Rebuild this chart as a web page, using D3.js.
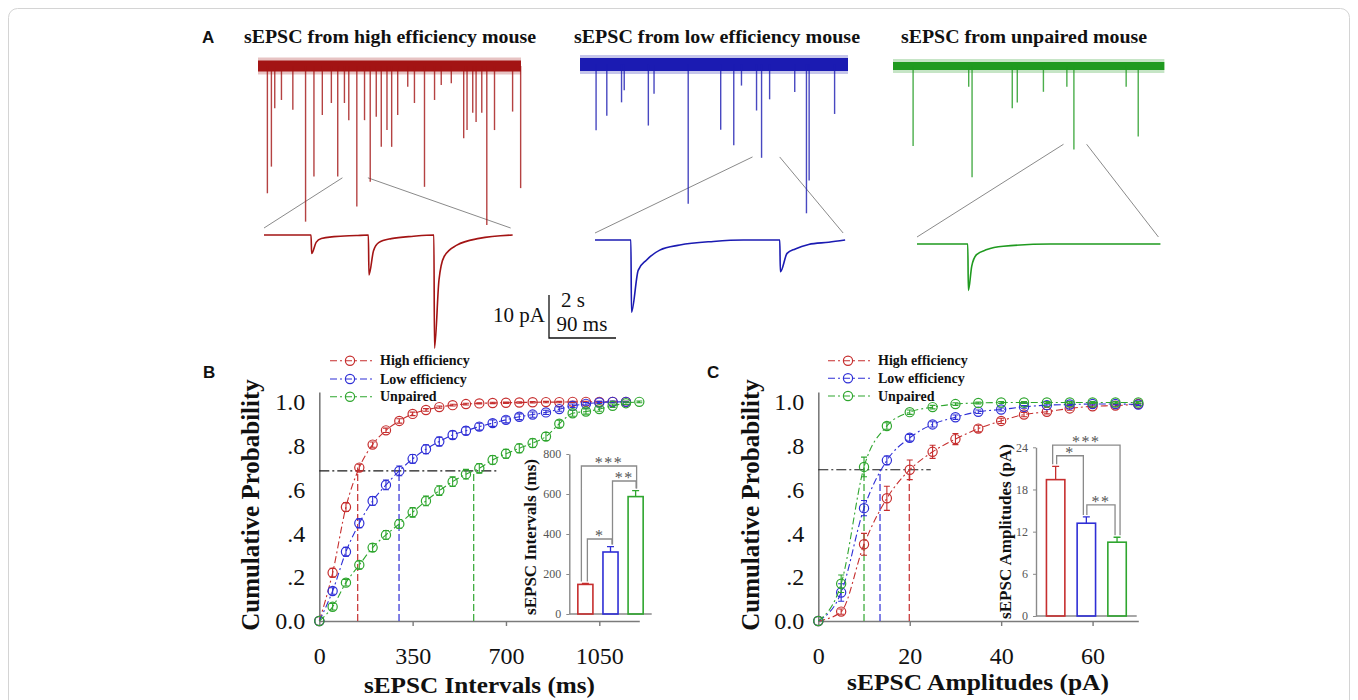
<!DOCTYPE html>
<html>
<head>
<meta charset="utf-8">
<script src="https://cdn.jsdelivr.net/npm/d3@7"></script>
<style>
  body { margin: 0; background: #fff; }
  svg { display: block; }
</style>
</head>
<body>
<div id="container"></div>
<script>
// ---------- panel A: raw sEPSC sweeps ----------
// events picked off each sweep, [time (s), amplitude (pA)]
let highSweepEvents = [[0.28, 29.6], [0.40, 23.4], [0.50, 9.8], [0.70, 7.9], [1.04, 10.2], [1.42, 36.2],
  [1.67, 25.7], [1.92, 11.4], [2.19, 8.6], [2.38, 25.7], [2.58, 8.6], [2.71, 12.6], [2.95, 32.7],
  [3.18, 12.6], [3.35, 26.9], [3.53, 11.8], [3.68, 18.8], [3.85, 14.9], [3.99, 18.8], [4.17, 11.4],
  [4.47, 4.8], [4.67, 8.6], [4.97, 28.1], [5.27, 7.9], [5.47, 4.4], [5.77, 4.0], [6.14, 16.8],
  [6.24, 14.9], [6.41, 10.9], [6.51, 13.0], [6.68, 10.9], [6.83, 37.0], [7.06, 14.9], [7.60, 10.6],
  [7.84, 28.4]];
let lowSweepEvents = [[0.48, 15.3], [0.80, 11.9], [1.24, 8.8], [1.32, 6.0], [2.04, 14.2], [2.21, 6.8],
  [3.23, 32.4], [4.20, 15.2], [4.59, 18.8], [4.82, 4.9], [5.27, 10.7], [5.42, 21.7], [5.66, 8.1],
  [6.41, 6.4], [6.76, 34.6], [6.84, 27.0], [7.60, 11.5]];
let unpairedSweepEvents = [[0.60, 18.6], [2.26, 4.8], [2.36, 25.9], [3.56, 9.8], [3.71, 8.5], [4.49, 6.0],
  [5.19, 4.8], [5.40, 19.4], [6.96, 4.8], [7.32, 16.4]];
let sweepLengths = [7.85, 8.0, 8.1]; // s

// expanded stretch of each sweep, [time (ms), amplitude (pA)]
let highZoomEvents = [[64, 4.3], [141, 9.3], [229, 26.3]];
let lowZoomEvents = [[49, 16.8], [249, 7.4]];
let unpairedZoomEvents = [[69, 10.8]];
let zoomLengths = [334, 336, 327]; // ms
// decay read off the biggest event, [ms after peak, fraction of peak]
let highDecay = [[0, 1], [6, 0.4], [13, 0.19], [30, 0.09], [60, 0.03], [110, 0]];
let lowDecay = [[0, 1], [9, 0.42], [20, 0.28], [38, 0.14], [65, 0.07], [110, 0.02], [150, 0]];
let unpairedDecay = [[0, 1], [4.5, 0.48], [11, 0.23], [25, 0.12], [47, 0.05], [110, 0]];

let groups = ["High efficiency", "Low efficiency", "Unpaired"];
let sweepTitles = ["sEPSC from high efficiency mouse", "sEPSC from low efficiency mouse", "sEPSC from unpaired mouse"];

// ---------- panel B: intervals ----------
let intervalBins = [0, 50, 100, 150, 200, 250, 300, 350, 400, 450, 500, 550, 600, 650, 700, 750, 800,
  850, 900, 950, 1000, 1050, 1100, 1150, 1200];
let intervalHigh = [0, .22, .52, .70, .805, .87, .913, .945, .963, .976, .985, .99, .993, .995, .996,
  .997, .998, .999, .999, 1, 1, 1, 1, 1];
let intervalHighErr = [0, .02, .02, .015, .012, .01, .01, .008, .006, .005, .004, .004, .003, .003, .003,
  .003, .003, .003, .003, .003, .003, .003, .003, .003];
let intervalLow = [0, .137, .316, .446, .548, .621, .685, .740, .784, .819, .849, .868, .887, .903, .918,
  .932, .942, .952, .967, .982, .991, .997, 1, 1];
let intervalLowErr = [0, .015, .02, .02, .02, .022, .022, .02, .02, .02, .018, .018, .016, .015, .014,
  .013, .012, .01, .01, .008, .006, .005, .004, .003];
let intervalUnpaired = [0, .065, .175, .256, .335, .393, .443, .496, .548, .595, .636, .67, .697, .735,
  .763, .788, .812, .842, .90, .948, .956, .967, .982, .994, 1];
let intervalUnpairedErr = [0, .015, .015, .018, .018, .02, .02, .022, .022, .022, .022, .022, .022, .02,
  .02, .02, .02, .018, .016, .014, .012, .01, .008, .006, .004];
let intervalTicks = [0, 350, 700, 1050];
let intervalCut = 0.685, intervalCutEnd = 670;
let intervalMarks = [144, 299, 579], intervalMarkTops = [0.70, 0.685, 0.685];
let intervalMeans = [148, 310, 587], intervalSem = [5, 27, 30];
let intervalBarTicks = [0, 200, 400, 600, 800];
let intervalSig = [{pair: [0, 1], at: 375, mark: "*"}, {pair: [1, 2], at: 665, mark: "**"},
  {pair: [0, 2], at: 740, mark: "***"}];

// ---------- panel C: amplitudes ----------
let amplitudeBins = [0, 5, 10, 15, 20, 25, 30, 35, 40, 45, 50, 55, 60, 65, 70];
let amplitudeHigh = [0, .043, .35, .56, .69, .772, .83, .878, .913, .942, .955, .97, .98, .983, .99];
let amplitudeHighErr = [0, .012, .05, .055, .045, .03, .025, .015, .012, .01, .01, .008, .006, .005, .004];
let amplitudeLow = [0, .13, .515, .733, .836, .897, .93, .955, .965, .977, .985, .988, .99, .99, .988];
let amplitudeLowErr = [0, .04, .035, .02, .015, .012, .01, .008, .007, .006, .005, .004, .004, .004, .004];
let amplitudeUnpaired = [0, .17, .703, .89, .953, .976, .99, .995, .997, .997, .997, .997, .997, .997, .997];
let amplitudeUnpairedErr = [0, .04, .045, .015, .01, .008, .006, .004, .004, .004, .004, .004, .004, .004, .004];
let amplitudeTicks = [0, 20, 40, 60];
let amplitudeCut = 0.69, amplitudeCutEnd = 24.6;
let amplitudeMarks = [19.9, 13.5, 10.0], amplitudeMarkTops = [0.69, 0.69, 0.70];
let amplitudeMeans = [19.4, 13.2, 10.5], amplitudeSem = [1.9, 0.9, 0.7];
let amplitudeBarTicks = [0, 6, 12, 18, 24];
let amplitudeSig = [{pair: [0, 1], at: 22.8, mark: "*"}, {pair: [1, 2], at: 15.8, mark: "**"},
  {pair: [0, 2], at: 24.3, mark: "***"}];

let probTicks = [0, 0.2, 0.4, 0.6, 0.8, 1.0];
let probTickLabels = ["0.0", ".2", ".4", ".6", ".8", "1.0"];


let w = 1358;
let h = 700;
let serif = "'Liberation Serif', 'Times New Roman', serif";
let sans = "'Liberation Sans', Arial, sans-serif";
let traceColors = ["#a31414", "#1b1bb2", "#1f9a1f"];
let plotColors = ["#c62e2e", "#2f2fd6", "#2fa62f"];
let axisGray = "#7b7b7b";

let viz = d3.select("#container")
  .append("svg")
    .attr("width", w)
    .attr("height", h)
;

// thin frame round the figure
viz.append("rect")
  .attr("x", 8.5).attr("y", 8.5).attr("width", w - 17).attr("height", h + 20).attr("rx", 9)
  .attr("fill", "none").attr("stroke", "#d4d4d4");

function addText(parent, str, x, y, size, o) {
  o = o || {};
  let t = parent.append("text")
    .attr("x", x).attr("y", y)
    .attr("font-family", o.family || serif)
    .attr("font-size", size)
    .attr("font-weight", o.bold ? "bold" : "normal")
    .attr("text-anchor", o.anchor || "start")
    .attr("fill", o.fill || "#111")
    .text(str);
  if (o.length) t.attr("textLength", o.length).attr("lengthAdjust", "spacingAndGlyphs");
  if (o.rotate) t.attr("transform", "rotate(-90," + x + "," + y + ")").attr("dominant-baseline", "central");
  return t;
}

// panel letters
addText(viz, "A", 202, 43, 17, {bold: true, family: sans});
addText(viz, "B", 203, 378, 17, {bold: true, family: sans});
addText(viz, "C", 707, 378, 17, {bold: true, family: sans});


// ================= panel A =================
let sweepT = d3.scaleLinear().domain([0, 2]).range([0, 67]);  // same as the 2 s bar
let pA = d3.scaleLinear().domain([0, 10]).range([0, 43]);     // same as the 10 pA bar
let zoomT = d3.scaleLinear().domain([0, 90]).range([0, 67]);  // same as the 90 ms bar

let sweeps = [
  {events: highSweepEvents, len: sweepLengths[0], x0: 258, y0: 66, band: 11, win: [2.52, 3.28], depth: 26, title: [390, 292]},
  {events: lowSweepEvents, len: sweepLengths[1], x0: 580, y0: 64.5, band: 13, win: [5.15, 5.96], depth: 21.5, title: [717, 286]},
  {events: unpairedSweepEvents, len: sweepLengths[2], x0: 893, y0: 66, band: 8, win: [5.09, 5.78], depth: 18.2, title: [1024, 246]}
];
let zooms = [
  {events: highZoomEvents, decay: highDecay, len: zoomLengths[0], x0: 264, y0: 235},
  {events: lowZoomEvents, decay: lowDecay, len: zoomLengths[1], x0: 595, y0: 240},
  {events: unpairedZoomEvents, decay: unpairedDecay, len: zoomLengths[2], x0: 917, y0: 244}
];

// builds the expanded trace from the events and the decay shape
function zoomTrace(z) {
  let pts = [[0, 0]];
  z.events.forEach(function(e, k){
    let next = k < z.events.length - 1 ? z.events[k + 1][0] - 1.5 : z.len;
    pts.push([e[0] - 0.8, 0]);
    z.decay.forEach(function(d){
      if (e[0] + d[0] < next) pts.push([e[0] + d[0], e[1] * d[1]]);
    });
  });
  pts.push([z.len, 0]);
  return pts;
}

sweeps.forEach(function(s, i){
  let z = zooms[i];
  let g = viz.append("g").attr("class", "sweep");
  let sx = d => s.x0 + sweepT(d);

  addText(g, sweepTitles[i], s.title[0], 43, 18, {bold: true, anchor: "middle", length: s.title[1]});

  // grey lines from the sweep to its expanded stretch
  let ends = [[s.win[0], z.x0], [s.win[1], z.x0 + zoomT(z.len) - 2]];
  g.selectAll(".link").data(ends).enter().append("line")
    .attr("class", "link")
    .attr("x1", d => sx(d[0])).attr("y1", s.y0 + pA(s.depth))
    .attr("x2", d => d[1]).attr("y2", z.y0 - 7)
    .attr("stroke", "#8a8a8a").attr("stroke-width", 1);

  // noisy baseline drawn as a band
  g.append("line")
    .attr("x1", s.x0).attr("x2", sx(s.len)).attr("y1", s.y0).attr("y2", s.y0)
    .attr("stroke", traceColors[i]).attr("stroke-width", s.band + 6).attr("opacity", 0.25);
  g.append("line")
    .attr("x1", s.x0).attr("x2", sx(s.len)).attr("y1", s.y0).attr("y2", s.y0)
    .attr("stroke", traceColors[i]).attr("stroke-width", s.band);

  g.selectAll(".spike").data(s.events).enter().append("line")
    .attr("class", "spike")
    .attr("x1", d => sx(d[0])).attr("x2", d => sx(d[0]))
    .attr("y1", s.y0).attr("y2", d => s.y0 + pA(d[1]))
    .attr("stroke", traceColors[i]).attr("stroke-width", 1.4).attr("opacity", 0.8);

  let zl = d3.line()
    .x(d => z.x0 + zoomT(d[0]))
    .y(d => z.y0 + pA(d[1]))
    .curve(d3.curveMonotoneX);
  g.append("path").datum(zoomTrace(z))
    .attr("d", zl)
    .attr("fill", "none").attr("stroke", traceColors[i]).attr("stroke-width", 1.6);
});

// scale bar
let sb = {x: 549, y: 338};
viz.append("path")
  .attr("d", "M" + sb.x + "," + (sb.y - pA(10)) + "V" + sb.y + "H" + (sb.x + sweepT(2)))
  .attr("fill", "none").attr("stroke", "#111").attr("stroke-width", 1.3);
addText(viz, "10 pA", sb.x - 4, 322, 21, {anchor: "end"});
addText(viz, "2 s", 573, 307, 21, {anchor: "middle"});
addText(viz, "90 ms", 582, 331, 21, {anchor: "middle"});


// ================= panels B and C =================
function cumulativePanel(c) {
  let g = viz.append("g");
  let x = d3.scaleLinear().domain(c.xDomain).range(c.xRange);
  let y = d3.scaleLinear().domain([0, 1.045]).range([621, 392]);

  let xg = g.append("g").attr("transform", "translate(0,621)")
    .call(d3.axisBottom(x).tickValues(c.xTicks).tickFormat(d3.format("d")).tickSize(5).tickSizeOuter(0).tickPadding(21));
  let yg = g.append("g").attr("transform", "translate(" + c.xRange[0] + ",0)")
    .call(d3.axisLeft(y).tickValues(probTicks).tickFormat((d, i) => probTickLabels[i]).tickSize(0).tickSizeOuter(0).tickPadding(14));
  [xg, yg].forEach(function(a){
    a.attr("font-family", serif).attr("font-size", 24).attr("color", axisGray);
    a.select(".domain").attr("stroke-width", 1.6);
    a.selectAll(".tick line").attr("stroke-width", 1.4);
    a.selectAll(".tick text").attr("fill", "#111");
  });

  // cut-off level and where each curve crosses it
  g.append("line")
    .attr("x1", x(0)).attr("x2", x(c.cutEnd)).attr("y1", y(c.cut)).attr("y2", y(c.cut))
    .attr("stroke", "#1a1a1a").attr("stroke-width", 1.1).attr("stroke-dasharray", "10,3,2,3");
  g.selectAll(".mark").data(c.marks).enter().append("line")
    .attr("class", "mark")
    .attr("x1", d => x(d)).attr("x2", d => x(d))
    .attr("y1", y(0)).attr("y2", (d, i) => y(c.markTops[i]))
    .attr("stroke", (d, i) => plotColors[i]).attr("stroke-width", 1.2).attr("stroke-dasharray", "7,3");

  let lineMaker = d3.line().x(d => x(d[0])).y(d => y(d[1])).curve(d3.curveMonotoneX);
  c.series.forEach(function(s, i){
    let pts = s.vals.map((v, k) => [c.bins[k], v, s.errs[k]]);
    g.append("path").datum(pts)
      .attr("d", lineMaker)
      .attr("fill", "none").attr("stroke", plotColors[i]).attr("stroke-width", 1.1)
      .attr("stroke-dasharray", "7,3,2,3");
    let eb = g.append("g").attr("stroke", plotColors[i]).attr("stroke-width", 1.1).attr("fill", "none");
    eb.selectAll(".bar").data(pts.filter(p => p[2] > 0)).enter().append("path")
      .attr("class", "bar")
      .attr("d", p => "M" + x(p[0]) + "," + y(p[1] - p[2]) + "V" + y(p[1] + p[2]) +
        "M" + (x(p[0]) - 3) + "," + y(p[1] - p[2]) + "h6" +
        "M" + (x(p[0]) - 3) + "," + y(p[1] + p[2]) + "h6");
    eb.selectAll("circle").data(pts).enter().append("circle")
      .attr("cx", p => x(p[0])).attr("cy", p => y(p[1])).attr("r", 4.6)
      .attr("stroke-width", 1.2);
  });

  // legend
  groups.forEach(function(name, i){
    let ly = c.legendRows[i];
    g.append("line").attr("x1", c.legendX).attr("x2", c.legendX + 42).attr("y1", ly).attr("y2", ly)
      .attr("stroke", plotColors[i]).attr("stroke-width", 1.1).attr("stroke-dasharray", "7,3,2,3");
    g.append("circle").attr("cx", c.legendX + 20).attr("cy", ly).attr("r", 4.6)
      .attr("fill", "none").attr("stroke", plotColors[i]).attr("stroke-width", 1.2);
    addText(g, name, c.legendX + 50, ly + 4.5, 14, {bold: true});
  });

  addText(g, "Cumulative Probability", c.yLabelX, 505, 25, {bold: true, anchor: "middle", rotate: true});
  addText(g, c.xLabel, c.xLabelAt[0], c.xLabelAt[1], 24, {bold: true, anchor: "middle", length: c.xLabelAt[2]});
}

function barInset(c) {
  let g = viz.append("g");
  let x = d3.scaleBand().domain(groups).range(c.xRange).paddingInner(0.4).paddingOuter(0.34);
  let y = d3.scaleLinear().domain([0, c.yMax]).range([c.base, c.top]);

  let yg = g.append("g").attr("transform", "translate(" + c.xRange[0] + ",0)")
    .call(d3.axisLeft(y).tickValues(c.ticks).tickSize(3).tickSizeOuter(0).tickPadding(5));
  yg.attr("font-family", serif).attr("font-size", 12).attr("color", "#8a8a8a");
  yg.select(".domain").attr("stroke-width", 1.4);
  yg.selectAll(".tick text").attr("fill", "#555");
  g.append("line").attr("x1", c.xRange[0]).attr("x2", c.xRange[1]).attr("y1", y(0)).attr("y2", y(0))
    .attr("stroke", "#8a8a8a").attr("stroke-width", 1.4);

  let rows = groups.map((gname, i) => ({name: gname, mean: c.means[i], sem: c.sem[i], color: plotColors[i]}));
  g.selectAll(".bar").data(rows).enter().append("rect")
    .attr("class", "bar")
    .attr("x", d => x(d.name)).attr("y", d => y(d.mean))
    .attr("width", x.bandwidth()).attr("height", d => y(0) - y(d.mean))
    .attr("fill", "none").attr("stroke", d => d.color).attr("stroke-width", 1.6);
  g.selectAll(".err").data(rows).enter().append("path")
    .attr("class", "err")
    .attr("d", function(d){
      let cx = x(d.name) + x.bandwidth() / 2;
      return "M" + cx + "," + y(d.mean) + "V" + y(d.mean + d.sem) + "M" + (cx - 3.5) + "," + y(d.mean + d.sem) + "h7";
    })
    .attr("fill", "none").attr("stroke", d => d.color).attr("stroke-width", 1.3);

  // significance brackets
  let centre = i => x(groups[i]) + x.bandwidth() / 2;
  let topOf = i => y(c.means[i] + c.sem[i]) - 2;
  c.sig.forEach(function(s, k){
    let a = s.pair[0], b = s.pair[1];
    let xa = centre(a) + c.offsets[k][0], xb = centre(b) + c.offsets[k][1];
    g.append("path")
      .attr("d", "M" + xa + "," + topOf(a) + "V" + y(s.at) + "H" + xb + "V" + topOf(b))
      .attr("fill", "none").attr("stroke", "#8a8a8a").attr("stroke-width", 1.3);
    addText(g, s.mark, (xa + xb) / 2, y(s.at) + 2, 16, {anchor: "middle", fill: "#555"})
      .attr("letter-spacing", 1.5);
  });

  addText(g, c.yLabel, c.yLabelAt[0], c.yLabelAt[1], 17, {bold: true, anchor: "middle", rotate: true});
}

cumulativePanel({
  xDomain: [0, 1200], xRange: [319.3, 639.3], xTicks: intervalTicks, bins: intervalBins,
  series: [
    {vals: intervalHigh, errs: intervalHighErr},
    {vals: intervalLow, errs: intervalLowErr},
    {vals: intervalUnpaired, errs: intervalUnpairedErr}
  ],
  cut: intervalCut, cutEnd: intervalCutEnd, marks: intervalMarks, markTops: intervalMarkTops,
  legendX: 330, legendRows: [360.7, 379, 396.7],
  yLabelX: 250, xLabel: "sEPSC Intervals (ms)", xLabelAt: [479.5, 693, 231]
});
barInset({
  xRange: [569.3, 651.7], base: 614, top: 454, yMax: 800, ticks: intervalBarTicks,
  means: intervalMeans, sem: intervalSem, sig: intervalSig,
  offsets: [[2, 1.5], [2, 0.5], [-4, 1]],
  yLabel: "sEPSC Intervals (ms)", yLabelAt: [530, 537]
});

cumulativePanel({
  xDomain: [0, 70], xRange: [818.3, 1138.3], xTicks: amplitudeTicks, bins: amplitudeBins,
  series: [
    {vals: amplitudeHigh, errs: amplitudeHighErr},
    {vals: amplitudeLow, errs: amplitudeLowErr},
    {vals: amplitudeUnpaired, errs: amplitudeUnpairedErr}
  ],
  cut: amplitudeCut, cutEnd: amplitudeCutEnd, marks: amplitudeMarks, markTops: amplitudeMarkTops,
  legendX: 828, legendRows: [360.7, 378.3, 396],
  yLabelX: 750, xLabel: "sEPSC Amplitudes (pA)", xLabelAt: [978, 690, 262]
});
barInset({
  xRange: [1036, 1136.7], base: 616, top: 447.3, yMax: 24, ticks: amplitudeBarTicks,
  means: amplitudeMeans, sem: amplitudeSem, sig: amplitudeSig,
  offsets: [[1, -3], [0.5, -2], [-3, 3]],
  yLabel: "sEPSC Amplitudes (pA)", yLabelAt: [1005.5, 531.5]
});
</script>
</body>
</html>
